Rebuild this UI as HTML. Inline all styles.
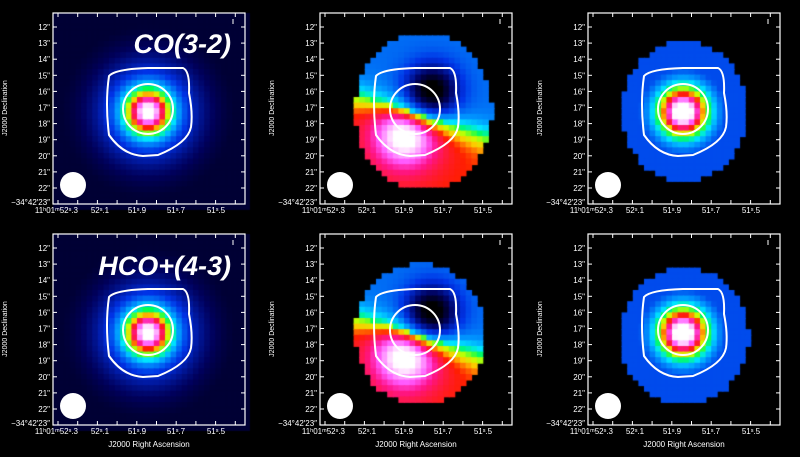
<!DOCTYPE html>
<html><head><meta charset="utf-8">
<style>
html,body{margin:0;padding:0;background:#000;}
#wrap{position:relative;width:800px;height:457px;overflow:hidden;background:#000;}
canvas,svg{position:absolute;left:0;top:0;}
</style></head>
<body><div id="wrap">
<canvas id="c" width="800" height="457"></canvas>
<svg id="s" width="800" height="457" xmlns="http://www.w3.org/2000/svg" font-family="Liberation Sans, sans-serif"></svg>
</div>
<script>
var stops=[[0,0,0,0],[0.12,0,0,90],[0.28,0,50,230],[0.4,0,150,255],[0.48,0,230,255],[0.56,0,255,80],[0.64,200,255,0],[0.7,255,200,0],[0.76,255,30,0],[0.84,255,20,140],[0.9,255,90,255],[1,255,255,255]];
function cmap(v){v=Math.max(0,Math.min(1,v));for(var i=1;i<stops.length;i++){if(v<=stops[i][0]){var a=stops[i-1],b=stops[i],t=(v-a[0])/(b[0]-a[0]);return 'rgb('+Math.round(a[1]+(b[1]-a[1])*t)+','+Math.round(a[2]+(b[2]-a[2])*t)+','+Math.round(a[3]+(b[3]-a[3])*t)+')';}}return '#fff';}
var ctx=document.getElementById('c').getContext('2d');
var FX=[53,320,588],FY=[13,234],W=192,H=191,P=5.6;
function inten(dx,dy){var r=Math.sqrt(dx*dx+dy*dy);return 0.05+0.6*Math.exp(-(r/22)*(r/22))+0.4*Math.exp(-(r/50)*(r/50));}
for(var row=0;row<2;row++)for(var col=0;col<3;col++){
 var ox=FX[col],oy=FY[row];
 for(var py=0;py<H;py+=P)for(var px=0;px<W;px+=P){
  var cx=px+P/2,cy=py+P/2,v=null;
  if(col==0){v=inten(cx-95,cy-99);v=Math.max(v,0.07);}
  else if(col==2){var ex=(cx-96)/ (row?64:62),ey=(cy-(row?102:98))/(row?68:70);if(ex*ex+ey*ey<1)v=Math.max(inten(cx-95,cy-99)+0.06,0.31);}
  else{var mcx=row?100:103,mcy=row?100:98,rx=row?65:68,ry=row?70:78;var ex=(cx-mcx)/rx,ey=(cy-mcy)/ry;
   if(ex*ex+ey*ey<1){var dx=cx-95,dy=cy-100;var u=-0.3*dx+0.95*dy;
    v=0.55+0.2*Math.tanh(u/15);
    var d1=(cx-85)*(cx-85)+(cy-122)*(cy-122),d2=(cx-112)*(cx-112)+(cy-78)*(cy-78);
    var g=Math.exp(-d1/800);
    v+=(u>0?0.22*g+0.08*Math.exp(-d1/2500):0.08*g)-0.4*Math.exp(-d2/625);}}
  if(v!==null){ctx.fillStyle=cmap(v);ctx.fillRect(ox+px,oy+py,Math.ceil(P)+0.5,Math.ceil(P)+0.5);}
 }
}
var s='';
var ylab=['12"','13"','14"','15"','16"','17"','18"','19"','20"','21"','22"'];
var xl=[[78,'end','11\u02b001\u1d5052\u02e2.3'],[100,'middle','52\u02e2.1'],[137,'middle','51\u02e2.9'],[176,'middle','51\u02e2.7'],[216,'middle','51\u02e2.5']];
for(var row=0;row<2;row++)for(var col=0;col<3;col++){
 var ox=FX[col],oy=FY[row];
 var cx0=ox+95,cy0=oy+96;
 s+='<path d="M'+(ox+56)+' '+(oy+63)+' Q'+(ox+62)+' '+(oy+56)+' '+(ox+95)+' '+(oy+55)+' L'+(ox+130)+' '+(oy+55)+' Q'+(ox+137)+' '+(oy+58)+' '+(ox+136)+' '+(oy+80)+' Q'+(ox+140)+' '+(oy+100)+' '+(ox+138)+' '+(oy+114)+' Q'+(ox+135)+' '+(oy+130)+' '+(ox+105)+' '+(oy+142)+' L'+(ox+90)+' '+(oy+143)+' Q'+(ox+70)+' '+(oy+142)+' '+(ox+56)+' '+(oy+122)+' Q'+(ox+52)+' '+(oy+90)+' '+(ox+56)+' '+(oy+63)+' Z" fill="none" stroke="#fff" stroke-width="2"/>';
 s+='<circle cx="'+cx0+'" cy="'+cy0+'" r="25" fill="none" stroke="#fff" stroke-width="2"/>';
 s+='<circle cx="'+(ox+20)+'" cy="'+(oy+172)+'" r="13" fill="#fff"/>';
 s+='<rect x="'+ox+'" y="'+oy+'" width="'+W+'" height="'+H+'" fill="none" stroke="#fff" stroke-width="1.2"/>';
 for(var k=0;k<10;k++){var tx=ox+5+k*19.7;s+='<line x1="'+tx+'" y1="'+oy+'" x2="'+tx+'" y2="'+(oy+4)+'" stroke="#fff"/><line x1="'+tx+'" y1="'+(oy+H)+'" x2="'+tx+'" y2="'+(oy+H-4)+'" stroke="#fff"/>';}
 s+='<line x1="'+(ox+W-12)+'" y1="'+(oy+6)+'" x2="'+(ox+W-12)+'" y2="'+(oy+11)+'" stroke="#fff"/>';
 for(var k=0;k<11;k++){var ty=oy+14+k*16.1;s+='<line x1="'+ox+'" y1="'+ty+'" x2="'+(ox+4)+'" y2="'+ty+'" stroke="#fff"/><line x1="'+(ox+W)+'" y1="'+ty+'" x2="'+(ox+W-4)+'" y2="'+ty+'" stroke="#fff"/>';
  s+='<text x="'+(ox-3)+'" y="'+(ty+3)+'" fill="#fff" font-size="8" text-anchor="end">'+ylab[k]+'</text>';}
 s+='<text x="'+(ox-3)+'" y="'+(oy+H+1)+'" fill="#fff" font-size="8" text-anchor="end">\u221234\u00b042\u203223\u2033</text>';
 for(var k=0;k<xl.length;k++)s+='<text x="'+(ox-53+xl[k][0])+'" y="'+(oy+H+9)+'" fill="#fff" font-size="8" text-anchor="'+xl[k][1]+'">'+xl[k][2]+'</text>';
 s+='<text transform="translate('+(ox-46)+','+(oy+95)+') rotate(-90)" fill="#fff" font-size="7" text-anchor="middle">J2000 Declination</text>';
 if(row==1)s+='<text x="'+(ox+96)+'" y="'+(oy+H+22)+'" fill="#fff" font-size="8" text-anchor="middle">J2000 Right Ascension</text>';
}
s+='<text x="231" y="53" fill="#fff" font-size="27" font-style="italic" font-weight="bold" text-anchor="end">CO(3-2)</text>';
s+='<text x="231" y="275" fill="#fff" font-size="27" font-style="italic" font-weight="bold" text-anchor="end">HCO+(4-3)</text>';
document.getElementById('s').innerHTML=s;
</script>
</body></html>
